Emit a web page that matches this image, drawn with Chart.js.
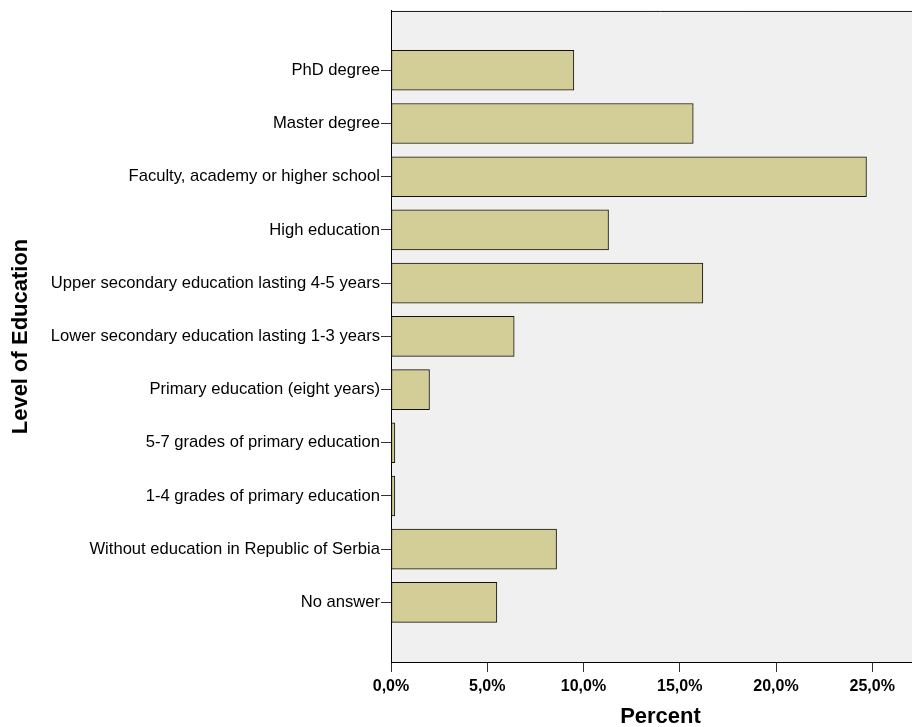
<!DOCTYPE html>
<html>
<head>
<meta charset="utf-8">
<script src="https://cdn.jsdelivr.net/npm/chart.js@4/dist/chart.umd.min.js"></script>
<style>
  html, body { margin: 0; padding: 0; background: #ffffff; overflow: hidden; }
  #wrap { width: 912px; height: 727px; overflow: hidden; }
</style>
</head>
<body>
<div id="wrap">
  <canvas id="educationChart" width="930" height="727"></canvas>
</div>
<script>
const categories = [
  'PhD degree',
  'Master degree',
  'Faculty, academy or higher school',
  'High education',
  'Upper secondary education lasting 4-5 years',
  'Lower secondary education lasting 1-3 years',
  'Primary education (eight years)',
  '5-7 grades of primary education',
  '1-4 grades of primary education',
  'Without education in Republic of Serbia',
  'No answer',
];

const percentValues = [9.5, 15.7, 24.7, 11.3, 16.2, 6.4, 2.0, 0.2, 0.2, 8.6, 5.5];

const percentTicks = [0, 5, 10, 15, 20, 25];

const FONT = "'Liberation Sans', Arial, sans-serif";

// light grey plot background plus the top frame line
const plotFrame = {
  id: 'plotFrame',
  beforeDraw(chart) {
    const { ctx, chartArea } = chart;
    ctx.save();
    ctx.fillStyle = '#f0f0f0';
    ctx.fillRect(chartArea.left, chartArea.top, chartArea.right - chartArea.left, chartArea.bottom - chartArea.top);
    ctx.strokeStyle = '#1a1a1a';
    ctx.lineWidth = 1;
    ctx.beginPath();
    ctx.moveTo(chartArea.left, chartArea.top + 0.5);
    ctx.lineTo(chartArea.right, chartArea.top + 0.5);
    ctx.stroke();
    ctx.restore();
  },
};

const chart = new Chart(document.getElementById('educationChart'), {
  type: 'bar',
  data: {
    datasets: [
      {
        label: 'Percent',
        data: categories.map((name, i) => ({ x: percentValues[i], y: i })),
        backgroundColor: '#d3ce97',
        borderColor: '#111111',
        borderWidth: 1,
        borderSkipped: false,
        barThickness: 40,
      },
    ],
  },
  options: {
    indexAxis: 'y',
    responsive: false,
    animation: false,
    devicePixelRatio: 1,
    layout: {
      padding: { left: 10, top: 10, right: 0, bottom: 0 },
    },
    plugins: {
      legend: { display: false },
      tooltip: { enabled: false },
    },
    scales: {
      x: {
        type: 'linear',
        position: 'bottom',
        min: 0,
        max: 28,
        afterBuildTicks: (scale) => {
          scale.ticks = percentTicks.map((v) => ({ value: v }));
        },
        afterFit: (scale) => {
          scale.height = 65;
        },
        ticks: {
          color: '#000000',
          padding: 5,
          maxRotation: 0,
          font: { family: FONT, size: 16, weight: 'bold' },
          callback: (v) => v.toFixed(1).replace('.', ',') + '%',
        },
        grid: {
          drawOnChartArea: false,
          drawTicks: true,
          tickLength: 10,
          tickColor: '#333333',
        },
        border: { color: '#000000', width: 1 },
        title: {
          display: true,
          text: 'Percent',
          color: '#000000',
          padding: 0,
          font: { family: FONT, size: 22, weight: 'bold', lineHeight: 0.9 },
        },
      },
      y: {
        type: 'linear',
        position: 'left',
        reverse: true,
        offset: false,
        min: -1.115,
        max: 11.12,
        afterBuildTicks: (scale) => {
          scale.ticks = categories.map((name, i) => ({ value: i }));
        },
        afterFit: (scale) => {
          scale.width = 381;
        },
        ticks: {
          color: '#000000',
          padding: 1,
          autoSkip: false,
          font: { family: FONT, size: 16.6 },
          callback: (v) => categories[v],
        },
        grid: {
          offset: false,
          drawOnChartArea: false,
          drawTicks: true,
          tickLength: 10,
          tickColor: '#333333',
        },
        border: { color: '#000000', width: 1 },
        title: {
          display: true,
          text: 'Level of Education',
          color: '#000000',
          padding: 0,
          font: { family: FONT, size: 22, weight: 'bold', lineHeight: 1 },
        },
      },
    },
  },
  plugins: [plotFrame],
});
</script>
</body>
</html>
